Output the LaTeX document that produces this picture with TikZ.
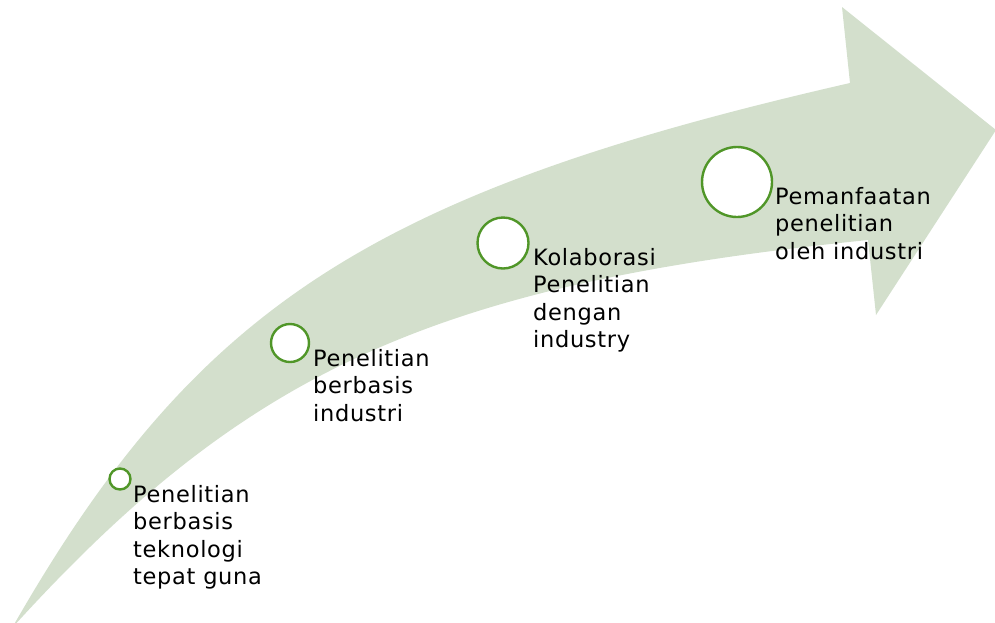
\documentclass[tikz,border=0pt]{standalone}
\usepackage{fontspec}
\newfontfamily\lblfont{DejaVu Sans}[LetterSpace=3]
\definecolor{arrowfill}{RGB}{211,223,204}
\definecolor{ringgreen}{RGB}{80,150,40}
\newcommand\lbltop{\rule{0pt}{20pt}}
\begin{document}
\begin{tikzpicture}[x=1pt,y=-1pt,
  ring/.style={circle,draw=ringgreen,line width=2.4pt,fill=white,inner sep=0pt},
  lbl/.style={font=\lblfont\fontsize{22.5}{27.5}\selectfont,align=left,inner sep=0pt,anchor=north west,text=black}]
\useasboundingbox (0,0) rectangle (995,622);
\clip (0,0) rectangle (995,622);
% curved arrow
\fill[arrowfill] (12,628) .. controls (195,308) and (369,193) .. (850,83)
  -- (842,7) -- (996,130) -- (876,315) -- (868,240)
  .. controls (436,284) and (247,369) .. (12,628) -- cycle;
% rings
\node[ring,minimum size=21pt] (c1) at (120,479) {};
\node[ring,minimum size=38pt] (c2) at (290,343) {};
\node[ring,minimum size=51pt] (c3) at (503,243) {};
\node[ring,minimum size=70pt] (c4) at (737,182) {};
% labels (first baseline = y + 20)
\node[lbl] (t1) at (133,482) {\lbltop Penelitian\\berbasis\\teknologi\\tepat guna};
\node[lbl] (t2) at (313,346) {\lbltop Penelitian\\berbasis\\industri};
\node[lbl] (t3) at (533,245) {\lbltop Kolaborasi\\Penelitian\\dengan\\industry};
\node[lbl] (t4) at (775,184) {\lbltop Pemanfaatan\\penelitian\\oleh industri};
\end{tikzpicture}
\end{document}
